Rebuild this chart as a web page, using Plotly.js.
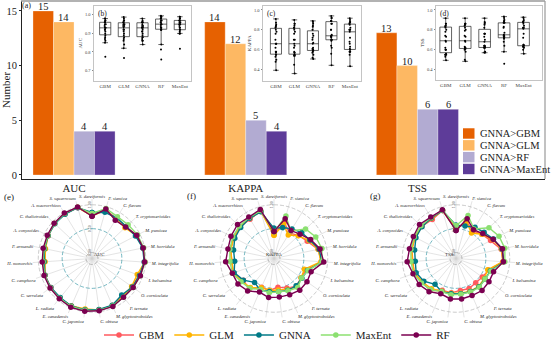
<!DOCTYPE html>
<html><head><meta charset="utf-8">
<script src="https://cdn.plot.ly/plotly-3.0.1.min.js"></script>
<style>html,body{margin:0;padding:0;background:#fff}#chart{width:554px;height:350px}</style>
</head><body><div id="chart"></div>
<script>
// ---------------- data ----------------
const metrics = ['AUC', 'KAPPA', 'TSS'];
const comparisons = ['GNNA>GBM', 'GNNA>GLM', 'GNNA>RF', 'GNNA>MaxEnt'];
const countGtGBM = [15, 14, 13];
const countGtGLM = [14, 12, 10];
const countGtRF = [4, 5, 6];
const countGtMaxEnt = [4, 4, 6];

const species = ['S. dareiformis', 'P. siamica', 'C. flavum', 'T. cryptomerioides', 'M. pumicea',
  'M. horridula', 'M. integrifolia', 'I. balsamina', 'O. corniculata', 'P. ternata',
  'M. glyptostroboides', 'C. obtusa', 'C. japonica', 'E. canadensis', 'L. radiata',
  'C. serrulata', 'C. camphora', 'H. monorchis', 'P. armandii', 'A. conyzoides',
  'C. thalictroides', 'A. macrorrhizos', 'S. squarrosum'];
const models = ['GBM', 'GLM', 'GNNA', 'MaxEnt', 'RF'];
const boxOrder = ['GBM', 'GLM', 'GNNA', 'RF', 'MaxEnt'];

const aucGBM    = [0.774,0.93,0.86,0.85,0.93,0.97,0.98,0.92,0.90,0.89,0.95,0.96,0.96,0.96,0.94,0.93,0.92,0.87,0.88,0.91,0.95,0.97,0.98];
const aucGLM    = [0.768,0.93,0.84,0.82,0.92,0.97,0.98,0.88,0.89,0.90,0.95,0.96,0.94,0.96,0.95,0.94,0.92,0.86,0.87,0.91,0.95,0.97,0.988];
const aucGNNA   = [0.84,0.88,0.87,0.86,0.90,0.96,0.97,0.93,0.91,0.86,0.94,0.95,0.96,0.96,0.93,0.93,0.92,0.88,0.89,0.91,0.94,0.96,0.98];
const aucMaxEnt = [0.817,0.96,0.90,0.91,0.95,0.98,0.99,0.95,0.93,0.92,0.96,0.97,0.97,0.97,0.95,0.94,0.93,0.90,0.90,0.92,0.95,0.98,0.99];
const aucRF     = [0.76,0.95,0.813,0.84,0.93,0.97,0.98,0.95,0.93,0.92,0.97,0.98,0.99,0.99,0.96,0.95,0.94,0.92,0.92,0.93,0.96,0.99,0.995];

const kappaGBM    = [0.393,0.66,0.50,0.58,0.66,0.82,0.87,0.58,0.57,0.62,0.55,0.48,0.55,0.53,0.70,0.66,0.78,0.76,0.80,0.83,0.85,0.84,0.91];
const kappaGLM    = [0.36,0.62,0.45,0.57,0.70,0.82,0.86,0.55,0.57,0.64,0.58,0.54,0.55,0.54,0.66,0.70,0.78,0.76,0.80,0.82,0.84,0.86,0.90];
const kappaGNNA   = [0.507,0.55,0.60,0.67,0.72,0.84,0.88,0.62,0.59,0.61,0.60,0.58,0.57,0.60,0.52,0.66,0.76,0.70,0.74,0.80,0.83,0.86,0.89];
const kappaMaxEnt = [0.433,0.80,0.55,0.78,0.86,0.90,0.88,0.63,0.58,0.66,0.61,0.58,0.60,0.58,0.68,0.72,0.80,0.80,0.82,0.85,0.87,0.88,0.917];
const kappaRF     = [0.443,0.74,0.56,0.62,0.74,0.86,0.92,0.70,0.72,0.73,0.70,0.69,0.70,0.64,0.75,0.80,0.80,0.89,0.86,0.89,0.92,0.89,0.94];

const tssGBM    = [0.493,0.68,0.55,0.62,0.69,0.84,0.86,0.60,0.55,0.53,0.56,0.55,0.60,0.60,0.74,0.73,0.80,0.78,0.82,0.84,0.86,0.83,0.917];
const tssGLM    = [0.483,0.68,0.50,0.62,0.74,0.85,0.86,0.58,0.60,0.63,0.62,0.61,0.61,0.62,0.69,0.73,0.80,0.79,0.82,0.84,0.86,0.86,0.917];
const tssGNNA   = [0.573,0.58,0.64,0.68,0.76,0.86,0.88,0.64,0.62,0.64,0.63,0.62,0.62,0.63,0.57,0.70,0.76,0.73,0.76,0.82,0.85,0.87,0.917];
const tssMaxEnt = [0.56,0.81,0.60,0.82,0.89,0.92,0.90,0.65,0.62,0.65,0.64,0.63,0.64,0.63,0.72,0.76,0.82,0.82,0.84,0.86,0.88,0.88,0.927];
const tssRF     = [0.46,0.74,0.58,0.64,0.75,0.87,0.87,0.71,0.72,0.74,0.72,0.73,0.73,0.68,0.77,0.82,0.83,0.90,0.87,0.88,0.92,0.89,0.933];

// ---------------- styles ----------------
const W = 554, H = 350;
const px = x => x / W, py = y => 1 - y / H;
const SERIF = 'Liberation Serif, Times New Roman, serif';
const barColors = ['#E66101', '#FDB863', '#B2ABD2', '#5E3C99'];
const modelColors = {GBM: '#FF5A5F', GLM: '#FFB400', GNNA: '#007A87', MaxEnt: '#8CE071', RF: '#7B0051'};

const counts = [countGtGBM, countGtGLM, countGtRF, countGtMaxEnt];
const metricData = {
  AUC:   {GBM: aucGBM, GLM: aucGLM, GNNA: aucGNNA, MaxEnt: aucMaxEnt, RF: aucRF},
  KAPPA: {GBM: kappaGBM, GLM: kappaGLM, GNNA: kappaGNNA, MaxEnt: kappaMaxEnt, RF: kappaRF},
  TSS:   {GBM: tssGBM, GLM: tssGLM, GNNA: tssGNNA, MaxEnt: tssMaxEnt, RF: tssRF}
};

const traces = [];
const shapes = [];
const annotations = [];

// bar axis geometry
const barX0 = 22, barX1 = 545, xRange = [-0.303, 2.743], bargap = 0.522;
const catPx = (barX1 - barX0) / (xRange[1] - xRange[0]);
const barPx = catPx * (1 - bargap) / comparisons.length;

// bars
comparisons.forEach((c, i) => {
  traces.push({
    type: 'bar', x: metrics, y: counts[i], name: c,
    marker: {color: barColors[i], line: {color: 'rgba(255,255,255,0.6)', width: 0.5}},
    xaxis: 'x', yaxis: 'y', showlegend: false, hoverinfo: 'skip'
  });
  // value labels sitting on the bar tops
  metrics.forEach((m, k) => {
    annotations.push({xref: 'x', yref: 'y', x: m, y: counts[i][k], yanchor: 'bottom',
      xshift: (i - (comparisons.length - 1) / 2) * barPx, yshift: -3,
      text: String(counts[i][k]), showarrow: false,
      font: {family: SERIF, size: 10.5, color: '#222'}});
  });
});

// manual legend for bars
comparisons.forEach((c, i) => {
  const top = 129 + i * 11.9;
  shapes.push({type: 'rect', xref: 'paper', yref: 'paper', x0: px(463), x1: px(474.5),
    y0: py(top + 10.5), y1: py(top), fillcolor: barColors[i], line: {width: 0}});
  annotations.push({xref: 'paper', yref: 'paper', x: px(477.5), y: py(top + 5.3), xanchor: 'left', yanchor: 'middle',
    text: c, showarrow: false, font: {family: SERIF, size: 10.5, color: '#222'}});
});

// frame of the bar panel (top/right in grey)
shapes.push({type: 'line', xref: 'paper', yref: 'paper', x0: px(21), x1: px(545), y0: py(1), y1: py(1), line: {color: '#999', width: 1.5}});
shapes.push({type: 'line', xref: 'paper', yref: 'paper', x0: px(545), x1: px(545), y0: py(1), y1: py(180), line: {color: '#999', width: 1.2}});

// inset box plots
const insetCfg = [
  {m: 'AUC', xa: 'x2', ya: 'y2', dom: [94, 191, 6, 81], range: [0.646, 1.048], ticks: [0.7, 0.8, 0.9, 1.0], xr: [-0.6, 4.6], lab: '(b)'},
  {m: 'KAPPA', xa: 'x3', ya: 'y3', dom: [263, 361, 6, 81], range: [0.29, 1.04], ticks: [0.4, 0.6, 0.8, 1.0], xr: [-0.7, 4.6], lab: '(c)'},
  {m: 'TSS', xa: 'x4', ya: 'y4', dom: [436, 542, 6, 80], range: [0.30, 1.04], ticks: [0.4, 0.6, 0.8, 1.0], xr: [-0.5, 4.95], lab: '(d)'}
];
insetCfg.forEach(cfg => {
  boxOrder.forEach(mod => {
    const vals = metricData[cfg.m][mod];
    traces.push({
      type: 'box', y: vals, x: vals.map(() => mod), name: mod,
      xaxis: cfg.xa, yaxis: cfg.ya, showlegend: false, hoverinfo: 'skip',
      boxpoints: 'all', jitter: 0.12, pointpos: 0, width: 0.6, whiskerwidth: 0.5,
      fillcolor: 'rgba(255,255,255,0)', line: {color: '#222', width: 0.7},
      marker: {color: '#000', size: 2}
    });
  });
  annotations.push({xref: 'paper', yref: 'paper', x: px(cfg.dom[0] + 1.5), y: py(cfg.dom[2] + 1), xanchor: 'left', yanchor: 'top',
    text: cfg.lab, showarrow: false, font: {family: SERIF, size: 7.5, color: '#222'}});
});

// radar charts
const radarCenters = [[92, 260], [274, 260], [456, 260]];
const rMin = -0.125, rMax = 1.12, R = 59.8;
const thetas = species.map((s, i) => i * 360 / species.length);
const circleTheta = Array.from({length: 121}, (_, i) => i * 3);
const gridRings = [{v: 0, c: '#9a9a9a'}, {v: 0.5, c: '#3a9aa8'}, {v: 1, c: '#b5b5b5'}];

metrics.forEach((m, j) => {
  const sp = j === 0 ? 'polar' : 'polar' + (j + 1);
  gridRings.forEach(g => {
    traces.push({type: 'scatterpolar', subplot: sp, r: circleTheta.map(() => g.v), theta: circleTheta,
      mode: 'lines', line: {color: g.c, width: 0.7, dash: '4px,2px'}, showlegend: false, hoverinfo: 'skip'});
  });
  models.forEach(mod => {
    const vals = metricData[m][mod];
    traces.push({
      type: 'scatterpolar', subplot: sp, name: mod, legend: 'legend2',
      r: vals.concat([vals[0]]), theta: thetas.concat([thetas[0]]),
      mode: 'lines+markers', line: {color: modelColors[mod], width: 1.4},
      marker: {color: modelColors[mod], size: 5.5},
      showlegend: j === 0, hoverinfo: 'skip'
    });
  });
  annotations.push({xref: 'paper', yref: 'paper', x: px(radarCenters[j][0]), y: py(radarCenters[j][1]),
    text: m, showarrow: false, font: {family: SERIF, size: 5, color: '#333'}, bgcolor: 'rgba(255,255,255,0)'});
});

const polarCfg = (j) => {
  const [cx, cy] = radarCenters[j];
  return {
    domain: {x: [px(cx - R), px(cx + R)], y: [py(cy + R), py(cy - R)]},
    bgcolor: 'rgba(0,0,0,0)',
    radialaxis: {range: [rMin, rMax], showgrid: false, showline: false, ticks: '',
      tickmode: 'array', tickvals: [0, 0.5, 1], ticktext: ['0.00', '0.50', '1.00'],
      angle: 90, tickangle: 0, side: 'counterclockwise',
      tickfont: {family: SERIF, size: 4, color: '#444'}},
    angularaxis: {rotation: 90, direction: 'clockwise', thetaunit: 'degrees', type: 'linear',
      tickmode: 'array', tickvals: thetas, ticktext: species, showline: false, ticks: '',
      showgrid: true, gridcolor: '#d2d2d2', gridwidth: 0.6,
      tickfont: {family: SERIF, size: 4.6, color: '#222', style: 'italic'}}
  };
};

// panel labels
[['(a)', 26, 6, 8], ['(e)', 9, 198, 9], ['(f)', 191, 197, 9], ['(g)', 375, 197, 9]].forEach(([t, x, y, s]) => {
  annotations.push({xref: 'paper', yref: 'paper', x: px(x), y: py(y), xanchor: 'center', yanchor: 'middle',
    text: t, showarrow: false, font: {family: SERIF, size: s, color: '#222'}});
});

const insetAxis = (cfg) => ({
  x: {domain: [px(cfg.dom[0]), px(cfg.dom[1])], anchor: cfg.ya, type: 'category', categoryorder: 'array',
      categoryarray: boxOrder, range: cfg.xr, showline: true, mirror: true, linecolor: '#c4c4c4', linewidth: 1,
      ticks: '', showgrid: false, zeroline: false, tickfont: {family: SERIF, size: 5, color: '#444'}},
  y: {domain: [py(cfg.dom[3]), py(cfg.dom[2])], anchor: cfg.xa, range: cfg.range, tickmode: 'array',
      tickvals: cfg.ticks, tickformat: '.1f', showline: true, mirror: true, linecolor: '#c4c4c4', linewidth: 1,
      ticks: 'outside', ticklen: 1.5, tickcolor: '#888', showgrid: false, zeroline: false,
      tickfont: {family: SERIF, size: 4.5, color: '#444'},
      title: {text: cfg.m, font: {family: SERIF, size: 5, color: '#333'}, standoff: 2}}
});
const ia = insetCfg.map(insetAxis);

const layout = {
  width: W, height: H, margin: {l: 0, r: 0, t: 0, b: 0},
  paper_bgcolor: '#fff', plot_bgcolor: 'rgba(0,0,0,0)',
  font: {family: SERIF, color: '#222'},
  barmode: 'group', bargap: bargap, bargroupgap: 0,
  xaxis: {domain: [px(barX0), px(barX1)], anchor: 'y', type: 'category', range: xRange,
    showline: true, linecolor: '#222', linewidth: 1, ticks: '', showgrid: false, zeroline: false,
    ticklabelstandoff: -1,
    tickfont: {family: SERIF, size: 11, color: '#222'}},
  yaxis: {domain: [py(180), py(1)], anchor: 'x', range: [-0.364, 15.91], tickvals: [0, 5, 10, 15],
    showline: true, linecolor: '#222', linewidth: 1, ticks: 'outside', ticklen: 2, tickcolor: '#222',
    showgrid: false, zeroline: false, tickfont: {family: SERIF, size: 10.5, color: '#222'},
    title: {text: 'Number', font: {family: SERIF, size: 11, color: '#222'}, standoff: 4}},
  xaxis2: ia[0].x, yaxis2: ia[0].y,
  xaxis3: ia[1].x, yaxis3: ia[1].y,
  xaxis4: ia[2].x, yaxis4: ia[2].y,
  polar: polarCfg(0), polar2: polarCfg(1), polar3: polarCfg(2),
  legend2: {orientation: 'h', x: 0.5, xanchor: 'center', y: py(337), yanchor: 'middle',
    font: {family: SERIF, size: 11, color: '#222'}, bgcolor: 'rgba(0,0,0,0)', itemwidth: 30},
  showlegend: true,
  shapes: shapes, annotations: annotations
};

Plotly.newPlot('chart', traces, layout, {staticPlot: true, displayModeBar: false});
</script>
</body></html>
